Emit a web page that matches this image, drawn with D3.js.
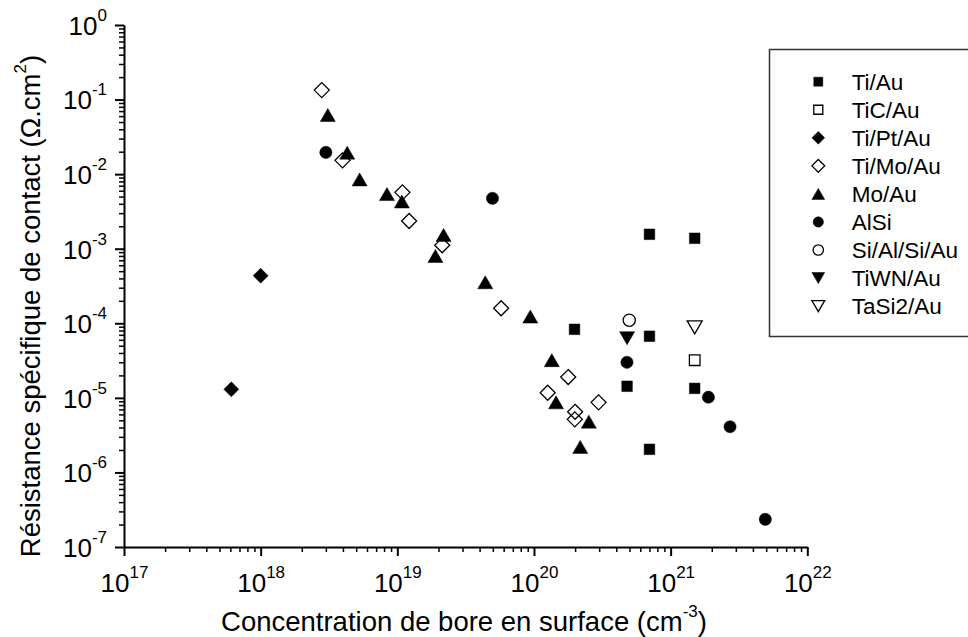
<!DOCTYPE html>
<html>
<head>
<meta charset="utf-8">
<script src="https://cdn.jsdelivr.net/npm/d3@7"></script>
<style>
  body { margin: 0; background: #fff; }
  svg { display: block; font-family: "Liberation Sans", Arial, sans-serif; }
</style>
</head>
<body>
<div id="chart"></div>
<script>
// values: [concentration cm^-3, resistance ohm.cm2]
const seriesNames = ['Ti/Au', 'TiC/Au', 'Ti/Pt/Au', 'Ti/Mo/Au', 'Mo/Au', 'AlSi', 'Si/Al/Si/Au', 'TiWN/Au', 'TaSi2/Au'];

const tiAu = [[1.98e20, 8.3e-5], [7.0e20, 1.56e-3], [1.5e21, 1.38e-3], [7.0e20, 6.7e-5],
  [4.8e20, 1.43e-5], [1.5e21, 1.34e-5], [7.0e20, 2.04e-6]];
const ticAu = [[1.5e21, 3.2e-5]];
const tiPtAu = [[6.1e17, 1.3e-5], [1.0e18, 4.35e-4]];
const tiMoAu = [[2.8e18, 0.134], [3.97e18, 0.0153], [1.09e19, 0.0057], [1.22e19, 0.00235],
  [2.13e19, 0.00111], [5.75e19, 1.59e-4], [1.78e20, 1.9e-5], [1.26e20, 1.17e-5],
  [2.97e20, 8.7e-6], [2.0e20, 6.5e-6], [1.99e20, 5.15e-6]];
const moAu = [[3.1e18, 0.062], [4.3e18, 0.0194], [5.3e18, 0.0085], [8.4e18, 0.0054],
  [1.08e19, 0.0043], [2.18e19, 0.00153], [1.9e19, 0.0008], [4.4e19, 3.55e-4],
  [9.4e19, 1.23e-4], [1.35e20, 3.2e-5], [1.45e20, 8.7e-6], [2.52e20, 4.8e-6], [2.18e20, 2.2e-6]];
const alSi = [[3.0e18, 0.0196], [4.97e19, 4.74e-3], [4.79e20, 3.0e-5], [1.89e21, 1.02e-5],
  [2.72e21, 4.1e-6], [4.93e21, 2.35e-7]];
const siAlSiAu = [[4.98e20, 1.1e-4]];
const tiwnAu = [[4.8e20, 6.3e-5]];
const taSi2Au = [[1.5e21, 8.8e-5]];

const seriesValues = [tiAu, ticAu, tiPtAu, tiMoAu, moAu, alSi, siAlSiAu, tiwnAu, taSi2Au];

const xTickExponents = [17, 18, 19, 20, 21, 22];
const yTickExponents = [-7, -6, -5, -4, -3, -2, -1, 0];

// marker style per series (shape, filled)
const markerStyles = [
  ['square', true], ['square', false], ['diamond', true], ['diamond', false],
  ['triangleUp', true], ['circle', true], ['circle', false], ['triangleDown', true], ['triangleDown', false]
];

class ContactChart {
  constructor(selector, w, h) {
    this.w = w;
    this.h = h;
    this.left = 124;
    this.right = 807.3;
    this.top = 25;
    this.bottom = 547;
    this.svg = d3.select(selector).html('')
      .append('svg')
      .attr('width', this.w)
      .attr('height', this.h);
    this.xScale = d3.scaleLog().domain([1e17, 1e22]).range([this.left, this.right]);
    this.yScale = d3.scaleLog().domain([1e-7, 1]).range([this.bottom, this.top]);
  }

  markerPath(shape, k) {
    const p = d3.path();
    if (shape === 'square') {
      const s = 5.3 * k;
      p.rect(-s, -s, 2 * s, 2 * s);
    } else if (shape === 'diamond') {
      const s = 7.5 * k;
      p.moveTo(0, -s); p.lineTo(s, 0); p.lineTo(0, s); p.lineTo(-s, 0); p.closePath();
    } else if (shape === 'triangleUp') {
      p.moveTo(0, -6.5 * k); p.lineTo(7.5 * k, 6.5 * k); p.lineTo(-7.5 * k, 6.5 * k); p.closePath();
    } else if (shape === 'triangleDown') {
      p.moveTo(0, 6.5 * k); p.lineTo(7.5 * k, -6.5 * k); p.lineTo(-7.5 * k, -6.5 * k); p.closePath();
    } else {
      const r = 6.1 * k;
      p.moveTo(r, 0); p.arc(0, 0, r, 0, 2 * Math.PI); p.closePath();
    }
    return p.toString();
  }

  styleMarker(sel, style, k) {
    sel.attr('d', this.markerPath(style[0], k))
      .attr('fill', style[1] ? '#000' : 'none')
      .attr('stroke', '#000')
      .attr('stroke-width', style[1] ? 0.5 : 1.3);
  }

  supText(t, exp) {
    t.text(null);
    t.append('tspan').text('10');
    t.append('tspan').attr('dy', -14).attr('font-size', 17).text(exp);
  }

  drawAxes() {
    const minorX = [], minorY = [];
    for (let e = 17; e < 22; e++) for (let m = 2; m < 10; m++) minorX.push(m * Math.pow(10, e));
    for (let e = -7; e < 0; e++) for (let m = 2; m < 10; m++) minorY.push(m * Math.pow(10, e));

    // minor ticks first, no labels
    this.svg.append('g')
      .attr('transform', `translate(0,${this.bottom})`)
      .call(d3.axisBottom(this.xScale).tickValues(minorX).tickSize(5).tickSizeOuter(0).tickFormat(''))
      .call(g => g.selectAll('line').attr('stroke-width', 1.5));
    this.svg.append('g')
      .attr('transform', `translate(${this.left},0)`)
      .call(d3.axisLeft(this.yScale).tickValues(minorY).tickSize(5).tickSizeOuter(0).tickFormat(''))
      .call(g => g.selectAll('line').attr('stroke-width', 1.5));

    const xAxis = this.svg.append('g')
      .attr('transform', `translate(0,${this.bottom})`)
      .call(d3.axisBottom(this.xScale)
        .tickValues(xTickExponents.map(e => Math.pow(10, e)))
        .tickSize(9).tickSizeOuter(0));
    xAxis.select('.domain').attr('stroke-width', 2);
    xAxis.selectAll('line').attr('stroke-width', 2);
    xAxis.selectAll('text')
      .attr('y', 44.5).attr('dy', null)
      .attr('font-size', 26).attr('fill', '#000')
      .each((d, i, n) => this.supText(d3.select(n[i]), xTickExponents[i]));

    const yAxis = this.svg.append('g')
      .attr('transform', `translate(${this.left},0)`)
      .call(d3.axisLeft(this.yScale)
        .tickValues(yTickExponents.map(e => Math.pow(10, e)))
        .tickSize(9).tickSizeOuter(0));
    yAxis.select('.domain').attr('stroke-width', 2);
    yAxis.selectAll('line').attr('stroke-width', 2);
    yAxis.selectAll('text')
      .attr('x', -17).attr('dy', '0.36em')
      .attr('font-size', 26).attr('fill', '#000')
      .each((d, i, n) => this.supText(d3.select(n[i]), yTickExponents[i]));

    // axis titles
    const xt = this.svg.append('text')
      .attr('x', 464).attr('y', 631)
      .attr('text-anchor', 'middle')
      .attr('font-size', 27.5);
    xt.append('tspan').text('Concentration de bore en surface (cm');
    xt.append('tspan').attr('dy', -14).attr('font-size', 17).text('-3');
    xt.append('tspan').attr('dy', 14).text(')');

    const yt = this.svg.append('text')
      .attr('transform', 'translate(40,306) rotate(-90)')
      .attr('text-anchor', 'middle')
      .attr('font-size', 27.5);
    yt.append('tspan').text('Résistance spécifique de contact (Ω.cm');
    yt.append('tspan').attr('dy', -14).attr('font-size', 17).text('2');
    yt.append('tspan').attr('dy', 14).text(')');
  }

  drawPoints() {
    seriesValues.forEach((pts, i) => {
      const g = this.svg.append('g').attr('class', 'series');
      g.selectAll('path')
        .data(pts)
        .enter()
        .append('path')
        .attr('transform', d => `translate(${this.xScale(d[0])},${this.yScale(d[1])})`)
        .call(sel => this.styleMarker(sel, markerStyles[i], 1));
    });
  }

  drawLegend() {
    const lg = this.svg.append('g').attr('class', 'legend');
    lg.append('rect')
      .attr('x', 769.5).attr('y', 49.5)
      .attr('width', 220).attr('height', 287)
      .attr('fill', '#fff')
      .attr('stroke', '#333')
      .attr('stroke-width', 1.5);
    seriesNames.forEach((name, i) => {
      const cy = 81.7 + i * 28.05;
      lg.append('path')
        .attr('transform', `translate(818.3,${cy})`)
        .call(sel => this.styleMarker(sel, markerStyles[i], 0.85));
      lg.append('text')
        .attr('x', 851.7).attr('y', cy).attr('dy', '0.36em')
        .attr('font-size', 22.5)
        .text(name);
    });
  }

  init() {
    this.drawAxes();
    this.drawPoints();
    this.drawLegend();
  }
}

const chart = new ContactChart('#chart', 968, 637);
chart.init();
</script>
</body>
</html>
